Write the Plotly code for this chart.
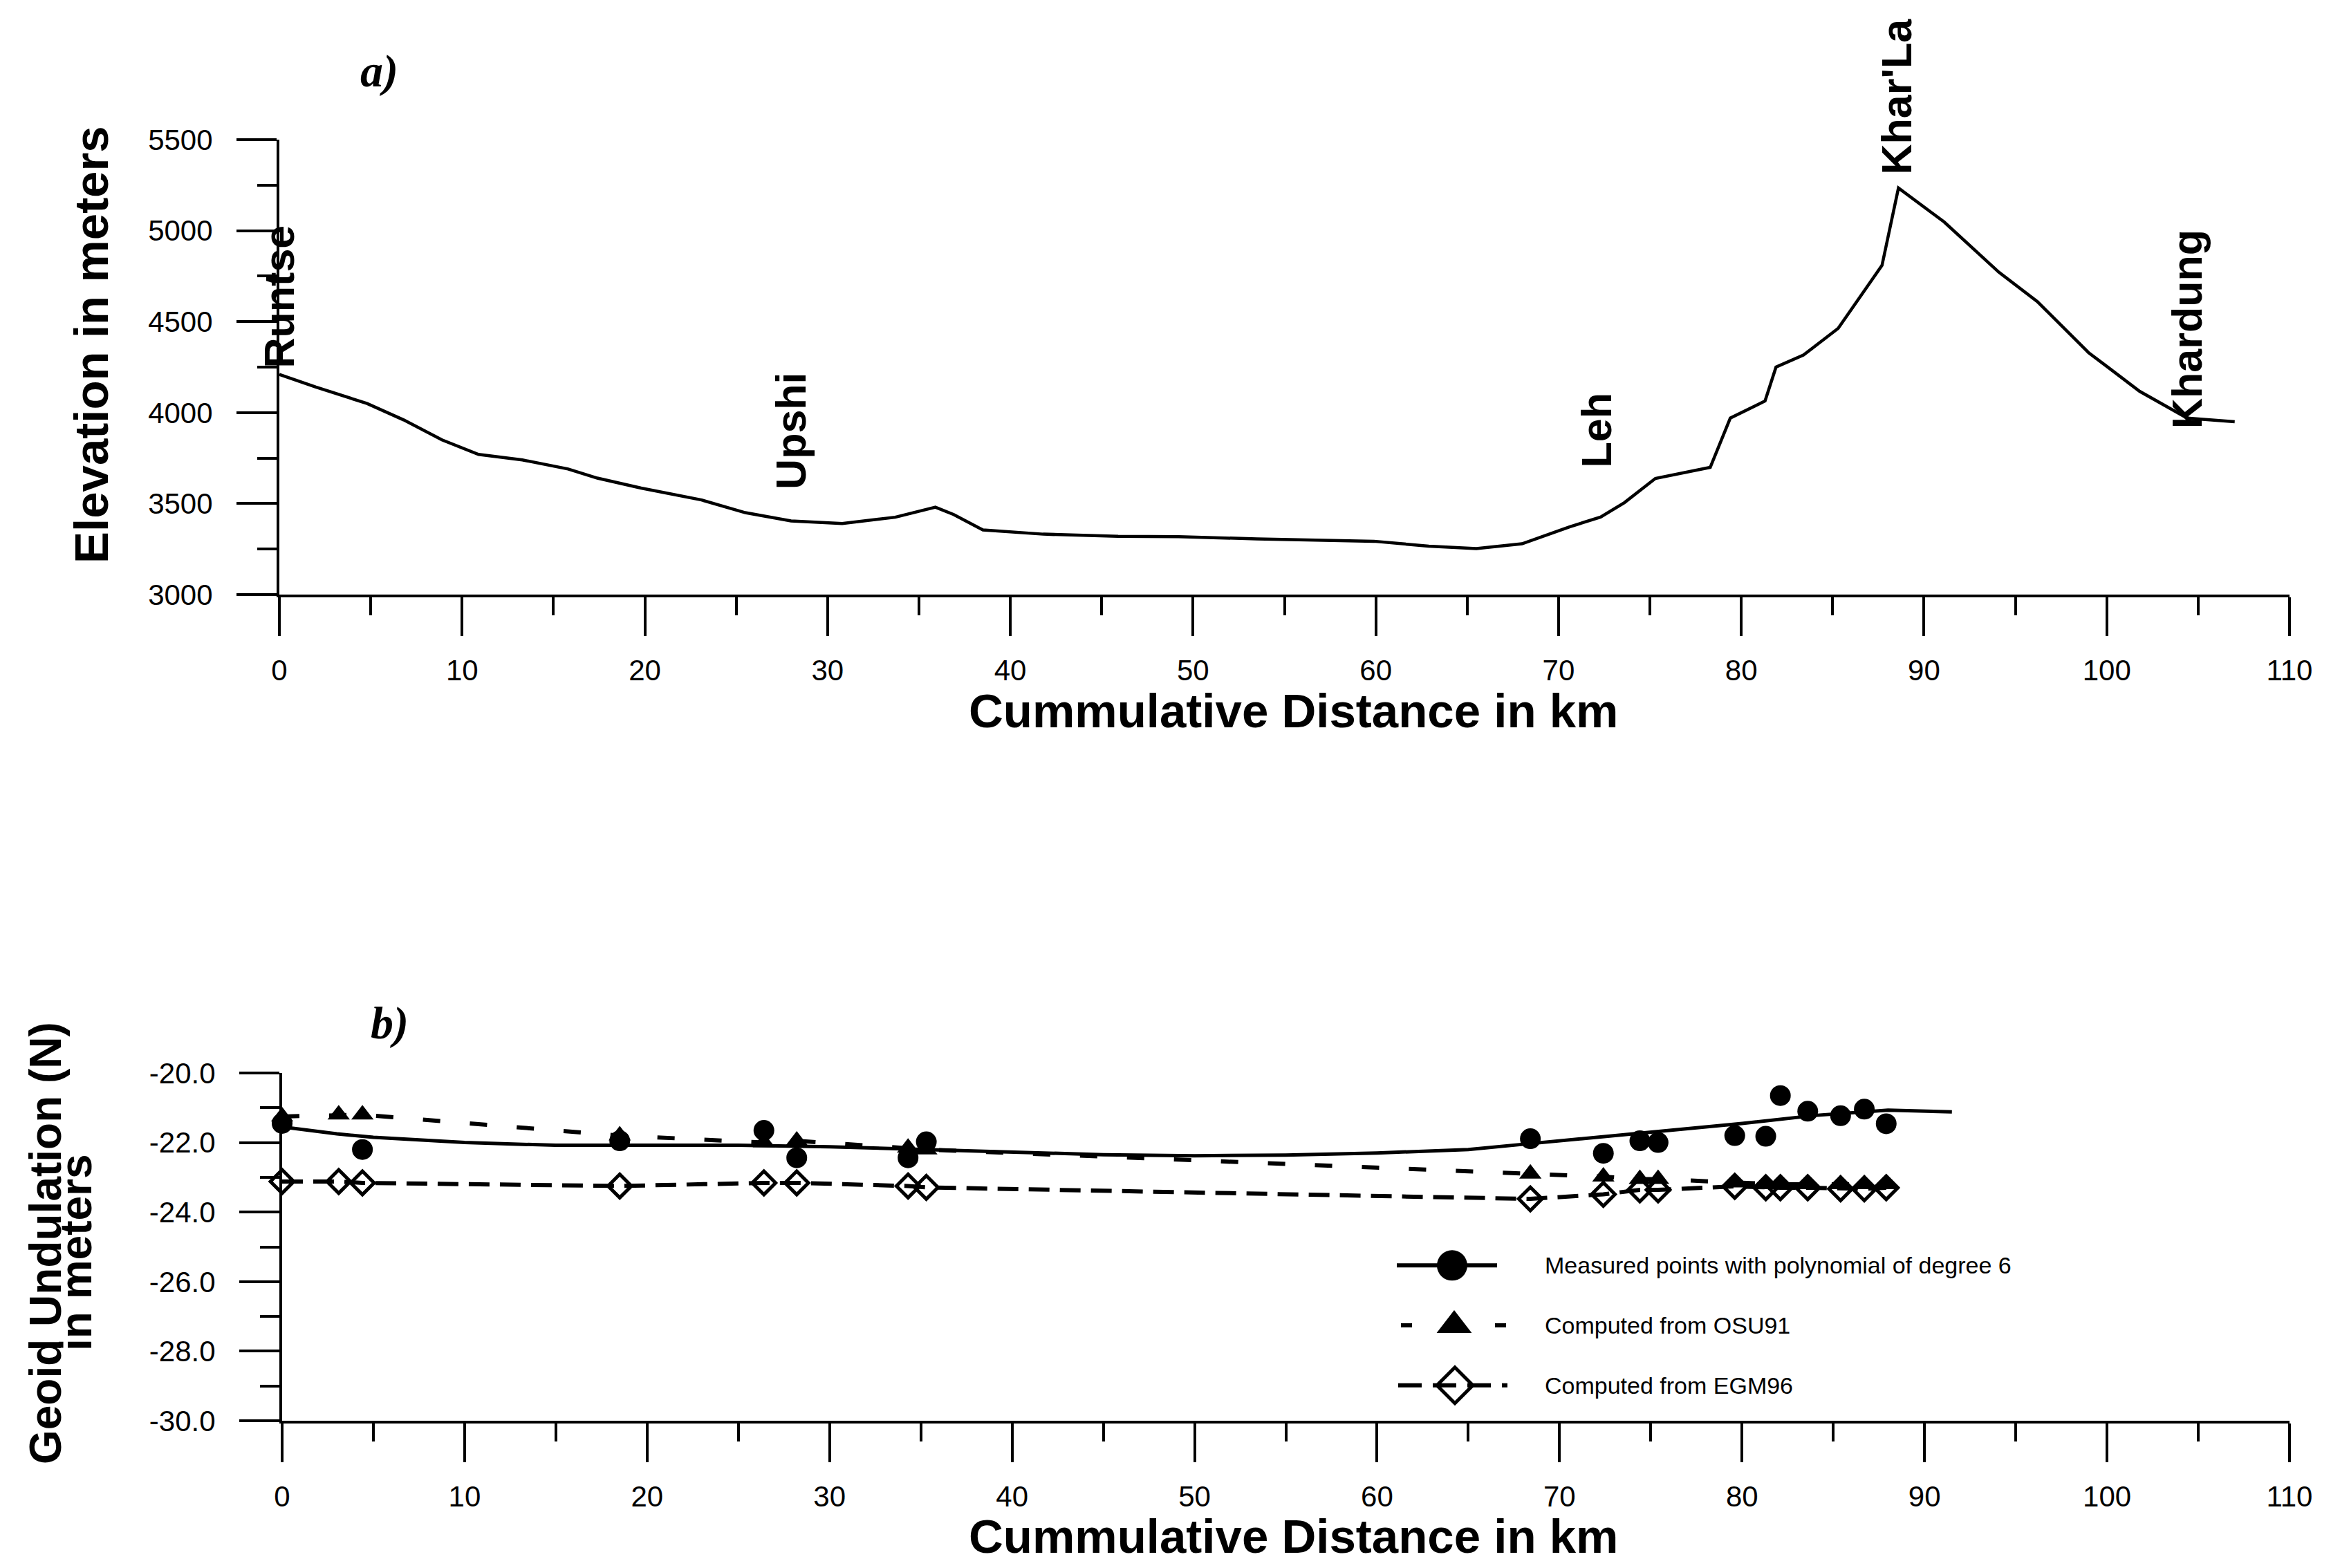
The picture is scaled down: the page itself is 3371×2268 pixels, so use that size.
import plotly.graph_objects as go

W, H = 3371, 2268
OFF = 8  # page body margin added by the browser

# ---------------- panel a) : elevation profile ----------------
profile_km = [0, 2.0, 4.8, 6.8, 8.9, 10.9, 13.3, 15.8, 17.4, 19.8, 23.1, 25.5, 28.0, 30.8,
              33.7, 35.9, 36.9, 38.5, 41.8, 45.9, 49.2, 53.5, 59.9, 62.9, 65.5, 68.0, 70.6,
              72.3, 73.6, 75.3, 78.3, 79.4, 81.3, 81.9, 83.4, 85.3, 87.7, 88.6, 91.1, 94.1,
              96.2, 99.0, 101.8, 104.4, 107.0]
profile_elev = [4210, 4140, 4050, 3960, 3850, 3770, 3740, 3690, 3640, 3585, 3520, 3450, 3405,
                3390, 3425, 3480, 3440, 3355, 3332, 3320, 3318, 3306, 3293, 3266, 3253, 3279,
                3372, 3426, 3505, 3638, 3699, 3970, 4064, 4250, 4316, 4463, 4809, 5234, 5048,
                4771, 4610, 4330, 4117, 3970, 3950]

place_names = ["Runtse", "Upshi", "Leh", "Khar'La", "Khardung"]
place_km = [0.0, 28.0, 72.1, 88.5, 104.4]
place_base_m = [4235, 3572, 3691, 5300, 3904]

# ---------------- panel b) : geoid undulation ----------------
fit_km = [0, 3, 5, 10, 15, 20, 25, 30, 35, 40, 45, 50, 55, 60, 65, 68, 72, 76, 80, 84, 88, 91.5]
fit_n = [-21.55, -21.75, -21.85, -22.0, -22.08, -22.08, -22.08, -22.12, -22.2, -22.28, -22.35,
         -22.38, -22.36, -22.3, -22.2, -22.05, -21.85, -21.65, -21.45, -21.22, -21.07, -21.12]

meas_km = [0, 4.4, 18.5, 26.4, 28.2, 34.3, 35.3, 68.4, 72.4, 74.4, 75.4, 79.6, 81.3, 82.1,
           83.6, 85.4, 86.7, 87.9]
meas_n = [-21.45, -22.2, -21.95, -21.65, -22.44, -22.44, -21.98, -21.89, -22.31, -21.95, -22.0,
          -21.8, -21.82, -20.65, -21.1, -21.23, -21.04, -21.46]

station_km = [0, 3.1, 4.4, 18.5, 26.4, 28.2, 34.3, 35.3, 68.4, 72.4, 74.4, 75.4, 79.6, 81.3,
              82.1, 83.6, 85.4, 86.7, 87.9]
osu91_n = [-21.25, -21.2, -21.2, -21.8, -22.0, -21.95, -22.15, -22.2, -22.9, -22.98, -23.05,
           -23.05, -23.15, -23.2, -23.2, -23.2, -23.2, -23.2, -23.2]
egm96_n = [-23.12, -23.12, -23.16, -23.25, -23.16, -23.16, -23.25, -23.29, -23.62, -23.49,
           -23.36, -23.36, -23.26, -23.3, -23.3, -23.3, -23.33, -23.33, -23.3]

# ---------------- ticks / labels ----------------
dist_ticks = [0, 10, 20, 30, 40, 50, 60, 70, 80, 90, 100, 110]
elev_ticks = [3000, 3500, 4000, 4500, 5000, 5500]
geoid_ticks = [-30, -28, -26, -24, -22, -20]
geoid_ticktext = ["-30.0", "-28.0", "-26.0", "-24.0", "-22.0", "-20.0"]
legend_labels = ["Measured points with polynomial of degree 6",
                 "Computed from OSU91",
                 "Computed from EGM96"]

FONT = "Liberation Sans, Arial, sans-serif"
SERIF = "Liberation Serif, Times New Roman, serif"
BLACK = "black"


def px_x(p):
    return (p - OFF) / W


def px_y(p):
    return 1 - (p - OFF) / H


fig = go.Figure()

# panel a
fig.add_trace(go.Scatter(x=profile_km, y=profile_elev, mode="lines",
                         line=dict(color=BLACK, width=4.5), xaxis="x", yaxis="y"))

# panel b
fig.add_trace(go.Scatter(x=fit_km, y=fit_n, mode="lines", line=dict(color=BLACK, width=5),
                         xaxis="x2", yaxis="y2"))
fig.add_trace(go.Scatter(x=station_km, y=osu91_n, mode="lines+markers",
                         line=dict(color=BLACK, width=6, dash="25px,43px"),
                         marker=dict(symbol="triangle-up", size=28, color=BLACK),
                         cliponaxis=False, xaxis="x2", yaxis="y2"))
fig.add_trace(go.Scatter(x=station_km, y=egm96_n, mode="lines+markers",
                         line=dict(color=BLACK, width=6, dash="30px,15px"),
                         marker=dict(symbol="diamond-open", size=26, color=BLACK,
                                     line=dict(width=5, color=BLACK)),
                         cliponaxis=False, xaxis="x2", yaxis="y2"))
fig.add_trace(go.Scatter(x=meas_km, y=meas_n, mode="markers",
                         marker=dict(symbol="circle", size=30, color=BLACK),
                         cliponaxis=False, xaxis="x2", yaxis="y2"))

# custom legend key (own hidden axes, in pixel-like units)
fig.add_trace(go.Scatter(x=[20, 165], y=[0.5, 0.5], mode="lines",
                         line=dict(color=BLACK, width=6), xaxis="x3", yaxis="y3"))
fig.add_trace(go.Scatter(x=[100], y=[0.5], mode="markers",
                         marker=dict(symbol="circle", size=44, color=BLACK),
                         xaxis="x3", yaxis="y3"))
fig.add_trace(go.Scatter(x=[26, 180], y=[1.5, 1.5], mode="lines",
                         line=dict(color=BLACK, width=6, dash="16px,52px"),
                         xaxis="x3", yaxis="y3"))
fig.add_trace(go.Scatter(x=[103], y=[1.5], mode="markers",
                         marker=dict(symbol="triangle-up", size=44, color=BLACK),
                         xaxis="x3", yaxis="y3"))
fig.add_trace(go.Scatter(x=[22, 180], y=[2.5, 2.5], mode="lines",
                         line=dict(color=BLACK, width=6, dash="34px,16px"),
                         xaxis="x3", yaxis="y3"))
fig.add_trace(go.Scatter(x=[104], y=[2.5], mode="markers",
                         marker=dict(symbol="diamond-open", size=40, color=BLACK,
                                     line=dict(width=5, color=BLACK)),
                         xaxis="x3", yaxis="y3"))

tickfont = dict(family=FONT, size=42, color=BLACK)
common_x = dict(range=[0, 110], tickvals=dist_ticks, showline=True, linewidth=4,
                linecolor=BLACK, ticks="outside", ticklen=56, tickwidth=4, tickcolor=BLACK,
                showgrid=False, zeroline=False, tickfont=tickfont, ticklabelstandoff=14,
                automargin=False,
                minor=dict(ticks="outside", ticklen=26, tickwidth=4, tickcolor=BLACK,
                           dtick=5, tick0=0, showgrid=False))
common_y = dict(showline=True, linewidth=4, linecolor=BLACK, ticks="outside", ticklen=58,
                tickwidth=4, tickcolor=BLACK, showgrid=False, zeroline=False,
                tickfont=tickfont, ticklabelstandoff=26, automargin=False)

fig.update_layout(
    template="none",
    width=W, height=H, autosize=False,
    margin=dict(l=0, r=0, t=0, b=0, pad=0, autoexpand=False),
    paper_bgcolor="white", plot_bgcolor="white",
    showlegend=False,
    font=dict(family=FONT, color=BLACK),
    xaxis=dict(domain=[px_x(404), px_x(3311)], anchor="y", **common_x),
    yaxis=dict(domain=[px_y(860), px_y(202)], anchor="x", range=[3000, 5500],
               tickvals=elev_ticks,
               minor=dict(ticks="outside", ticklen=28, tickwidth=4, tickcolor=BLACK,
                          dtick=250, tick0=3000, showgrid=False),
               **common_y),
    xaxis2=dict(domain=[px_x(408), px_x(3311)], anchor="y2", **common_x),
    yaxis2=dict(domain=[px_y(2055), px_y(1552)], anchor="x2", range=[-30, -20],
                tickvals=geoid_ticks, ticktext=geoid_ticktext,
                minor=dict(ticks="outside", ticklen=28, tickwidth=4, tickcolor=BLACK,
                           dtick=1, tick0=-30, showgrid=False),
                **common_y),
    xaxis3=dict(domain=[px_x(2000), px_x(2800)], anchor="y3", range=[0, 800],
                visible=False, automargin=False),
    yaxis3=dict(domain=[px_y(2047), px_y(1787)], anchor="x3", range=[3, 0],
                visible=False, automargin=False),
)

annotations = []
# place names
for name, xk, yb in zip(place_names, place_km, place_base_m):
    annotations.append(dict(x=xk, y=yb, xref="x", yref="y", text=f"<b>{name}</b>",
                            textangle=-90, showarrow=False, xanchor="center",
                            yanchor="bottom", font=dict(family=FONT, size=61, color=BLACK)))
# legend labels
for i, lab in enumerate(legend_labels):
    annotations.append(dict(x=232, y=i + 0.5, xref="x3", yref="y3", text=lab,
                            showarrow=False, xanchor="left", yanchor="middle",
                            font=dict(family=FONT, size=34, color=BLACK)))


def centered(xp, yp, text, size, family=FONT, angle=0):
    return dict(x=px_x(xp), y=px_y(yp), xref="paper", yref="paper", text=text,
                textangle=angle, showarrow=False, xanchor="center", yanchor="middle",
                font=dict(family=family, size=size, color=BLACK))


# panel letters
annotations.append(centered(548, 103, "<b><i>a)</i></b>", 66, SERIF))
annotations.append(centered(563, 1480, "<b><i>b)</i></b>", 66, SERIF))
# axis titles
annotations.append(centered(1870, 1028, "<b>Cummulative Distance in km</b>", 69))
annotations.append(centered(1870, 2222, "<b>Cummulative Distance in km</b>", 69))
annotations.append(centered(133, 499, "<b>Elevation in meters</b>", 69, angle=-90))
annotations.append(centered(66, 1798, "<b>Geoid Undulation (N)</b>", 64, angle=-90))
annotations.append(centered(110, 1812, "<b>in meters</b>", 64, angle=-90))

fig.update_layout(annotations=annotations)

fig.write_html("out.html")
